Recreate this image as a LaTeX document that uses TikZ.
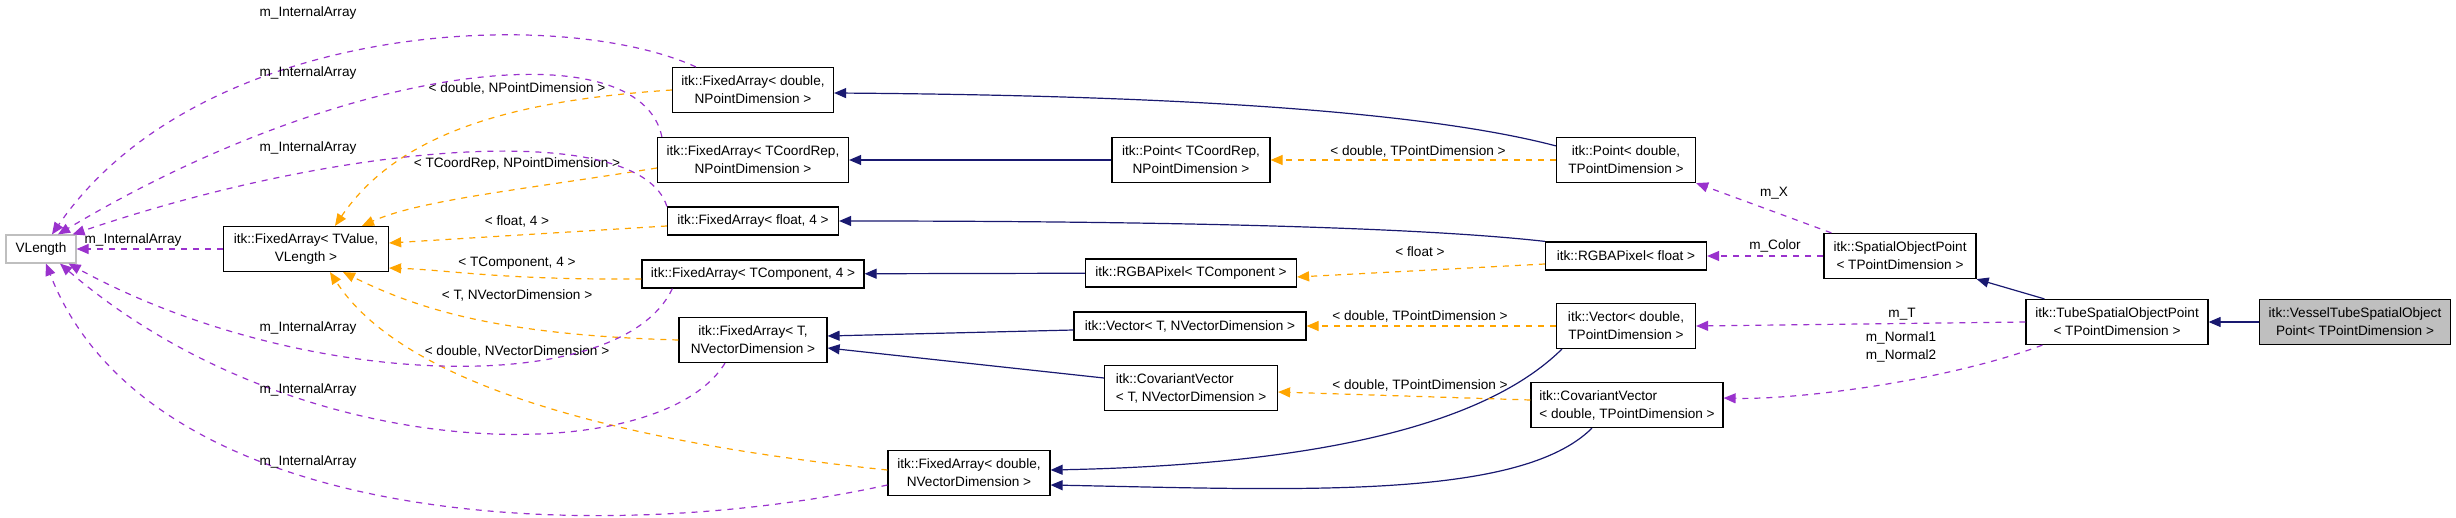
\documentclass[tikz,border=0pt]{standalone}
\usepackage{fontspec}
\setmainfont{Liberation Sans}
\usetikzlibrary{arrows.meta}

\definecolor{inhblue}{HTML}{191970}
\definecolor{tplorange}{HTML}{FFA500}
\definecolor{usepurple}{HTML}{9A32CD}

\tikzset{
    cls/.style={draw, line width=0.6pt, align=center, inner sep=1pt, minimum height=14pt, font=\fontsize{6.8}{9}\selectfont},
    cls2/.style={cls, minimum height=22.5pt},
    lbl/.style={font=\fontsize{6.8}{9}\selectfont, inner sep=1pt},
    inh/.style={draw=inhblue, line width=0.6pt, -{Triangle[length=6pt,width=5pt,fill=inhblue]}},
    tpl/.style={draw=tplorange, dashed, line width=0.6pt, -{Triangle[length=6pt,width=5pt,fill=tplorange]}},
    use/.style={draw=usepurple, dashed, line width=0.6pt, -{Triangle[length=6pt,width=5pt,fill=usepurple]}},
}

\begin{document}
\begin{tikzpicture}[x=0.5pt, y=-0.5pt]
    \useasboundingbox (0,0) rectangle (2456,518);

    % classes
    \node[cls, draw=gray!50, minimum width=35pt] (vl) at (41,249) {VLength};
    \node[cls2, minimum width=82.5pt] (fatv) at (306,249) {itk::FixedArray< TValue,\\VLength >};
    \node[cls2, minimum width=80.5pt] (fadnp) at (753,90) {itk::FixedArray< double,\\NPointDimension >};
    \node[cls2, minimum width=95.5pt] (facr) at (753,160) {itk::FixedArray< TCoordRep,\\NPointDimension >};
    \node[cls, minimum width=85.5pt] (faf4) at (753,221) {itk::FixedArray< float, 4 >};
    \node[cls, minimum width=111pt] (fatc4) at (753,274) {itk::FixedArray< TComponent, 4 >};
    \node[cls2, minimum width=74pt] (fatnv) at (753,340) {itk::FixedArray< T,\\NVectorDimension >};
    \node[cls2, minimum width=81pt] (fadnv) at (969,473) {itk::FixedArray< double,\\NVectorDimension >};

    \node[cls2, minimum width=79pt] (pttcr) at (1191,160) {itk::Point< TCoordRep,\\NPointDimension >};
    \node[cls2, minimum width=69.5pt] (ptd) at (1626,160) {itk::Point< double,\\TPointDimension >};
    \node[cls, minimum width=80.5pt] (rgbaf) at (1626,256) {itk::RGBAPixel< float >};
    \node[cls, minimum width=105.5pt] (rgbatc) at (1191,273) {itk::RGBAPixel< TComponent >};
    \node[cls, minimum width=116pt] (vectnv) at (1190,326) {itk::Vector< T, NVectorDimension >};
    \node[cls2, minimum width=69.5pt] (vecd) at (1626,326) {itk::Vector< double,\\TPointDimension >};
    \node[cls2, minimum width=86.5pt, align=left] (cvtnv) at (1191,388) {itk::CovariantVector\\< T, NVectorDimension >};
    \node[cls2, minimum width=96pt, align=left] (cvd) at (1627,405) {itk::CovariantVector\\< double, TPointDimension >};

    \node[cls2, minimum width=76pt] (sop) at (1900,256) {itk::SpatialObjectPoint\\< TPointDimension >};
    \node[cls2, minimum width=91pt] (tsop) at (2117,322) {itk::TubeSpatialObjectPoint\\< TPointDimension >};
    \node[cls2, fill=gray!50, minimum width=95.5pt] (vtsop) at (2355,322) {itk::VesselTubeSpatialObject\\Point< TPointDimension >};

    % inheritance
    \draw[inh] ([yshift=-4.5pt]ptd.north west) .. controls (1400,105) and (1100,95) .. ([yshift=-1.5pt]fadnp.east);
    \draw[inh] (pttcr) -- (facr);
    \draw[inh] (rgbaf.north west) .. controls (1400,225) and (1100,221) .. (faf4.east);
    \draw[inh] (rgbatc) -- (fatc4);
    \draw[inh] ([yshift=-2pt]vectnv.west) -- ([yshift=2pt]fatnv.east);
    \draw[inh] ([yshift=5pt]cvtnv.west) -- ([yshift=-4pt]fatnv.east);
    \draw[inh] ([xshift=3pt]vecd.south west) .. controls (1480,430) and (1300,465) .. ([yshift=1.5pt]fadnv.east);
    \draw[inh] ([xshift=-17.5pt]cvd.south) .. controls (1520,500) and (1300,490) .. ([yshift=-6pt]fadnv.east);
    \draw[inh] ([xshift=9.5pt]tsop.north west) -- (sop.south east);
    \draw[inh] (vtsop) -- (tsop);

    % template instances
    \draw[tpl] (fadnp.west) .. controls (520,100) and (400,130) .. ([xshift=14.5pt]fatv.north);
    \draw[tpl] ([yshift=-4pt]facr.west) .. controls (520,190) and (420,200) .. ([xshift=28pt]fatv.north);
    \draw[tpl] ([yshift=-2.5pt]faf4.west) -- ([yshift=3pt]fatv.east);
    \draw[tpl] ([yshift=-2.5pt]fatc4.west) .. controls (500,280) and (450,270) .. ([yshift=-9.5pt]fatv.east);
    \draw[tpl] (fatnv.west) .. controls (500,335) and (420,310) .. ([xshift=18.5pt]fatv.south);
    \draw[tpl] ([yshift=1.5pt]fadnv.west) .. controls (600,440) and (400,380) .. ([xshift=12pt]fatv.south);
    \draw[tpl] (ptd) -- (pttcr);
    \draw[tpl] ([yshift=-4pt]rgbaf.west) -- ([yshift=-2pt]rgbatc.east);
    \draw[tpl] (vecd) -- (vectnv);
    \draw[tpl] ([yshift=2.5pt]cvd.west) -- ([yshift=-2pt]cvtnv.east);

    \node[lbl] (l1) at (517,88) {< double, NPointDimension >};
    \node[lbl] (l2) at (517,164) {< TCoordRep, NPointDimension >};
    \node[lbl] (l3) at (517,221) {< float, 4 >};
    \node[lbl] (l4) at (517,263) {< TComponent, 4 >};
    \node[lbl] (l5) at (517,295) {< T, NVectorDimension >};
    \node[lbl] (l6) at (517,351) {< double, NVectorDimension >};
    \node[lbl] (l7) at (1418,151) {< double, TPointDimension >};
    \node[lbl] (l8) at (1420,252) {< float >};
    \node[lbl] (l9) at (1420,316) {< double, TPointDimension >};
    \node[lbl] (l10) at (1420,385) {< double, TPointDimension >};

    % members
    \draw[use] (fatv) -- (vl);
    \draw[use] ([xshift=12pt]fadnp.north west) .. controls (560,5) and (200,20) .. ([xshift=5.5pt]vl.north);
    \draw[use] ([xshift=2.5pt]facr.north west) .. controls (640,30) and (350,60) .. ([xshift=8.5pt]vl.north);
    \draw[use] (faf4.north west) .. controls (640,120) and (350,140) .. ([xshift=-2pt]vl.north east);
    \draw[use] ([xshift=15.5pt]fatc4.south west) .. controls (620,400) and (300,390) .. ([xshift=-4pt]vl.south east);
    \draw[use] ([xshift=-14pt]fatnv.south) .. controls (660,470) and (300,470) .. ([xshift=9.5pt]vl.south);
    \draw[use] ([yshift=-6pt]fadnv.west) .. controls (600,548) and (150,530) .. ([xshift=2.5pt]vl.south);
    \draw[use] ([xshift=4pt]sop.north west) -- (ptd.south east);
    \draw[use] (sop.west) -- (rgbaf.east);
    \draw[use] (tsop.west) -- (vecd.east);
    \draw[use] ([xshift=8.5pt]tsop.south west) .. controls (1950,380) and (1800,400) .. ([yshift=3.5pt]cvd.east);

    \node[lbl] (m0) at (133,240) {m\_InternalArray};
    \node[lbl] (m1) at (308,13) {m\_InternalArray};
    \node[lbl] (m2) at (308,73) {m\_InternalArray};
    \node[lbl] (m3) at (308,148) {m\_InternalArray};
    \node[lbl] (m4) at (308,328) {m\_InternalArray};
    \node[lbl] (m5) at (308,390) {m\_InternalArray};
    \node[lbl] (m6) at (308,462) {m\_InternalArray};
    \node[lbl] (mx) at (1774,193) {m\_X};
    \node[lbl] (mc) at (1775,246) {m\_Color};
    \node[lbl] (mt) at (1902,314) {m\_T};
    \node[lbl, align=center] (mn) at (1901,347) {m\_Normal1\\m\_Normal2};
\end{tikzpicture}
\end{document}
